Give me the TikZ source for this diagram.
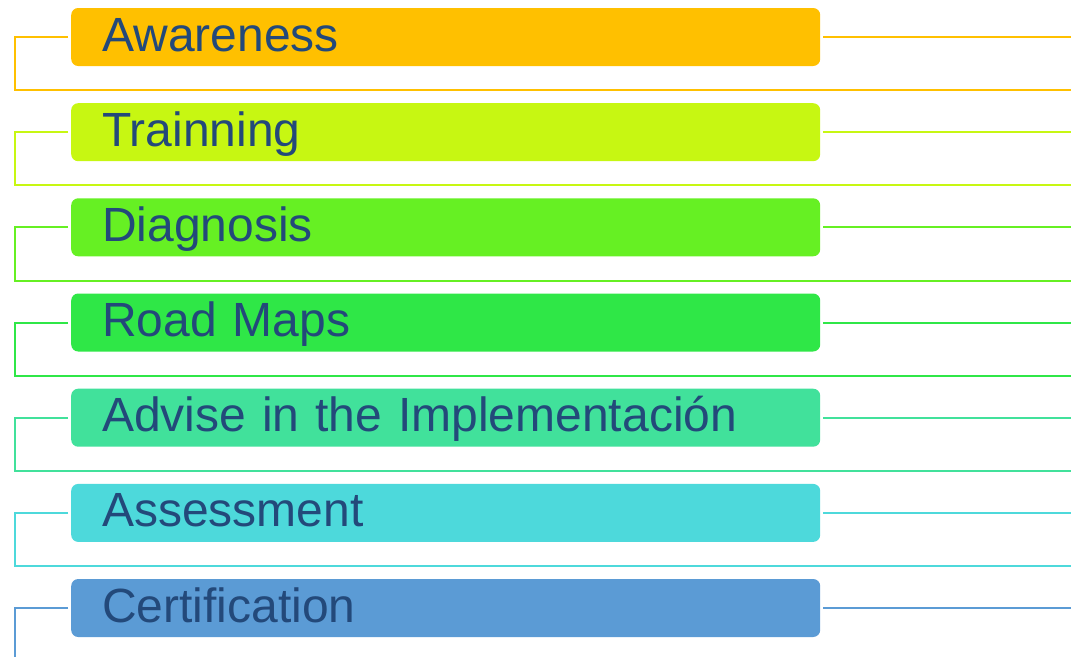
\documentclass[tikz,border=0pt]{standalone}
\usepackage{fontspec}
\setmainfont{Liberation Sans}
\usetikzlibrary{calc}
\definecolor{textblue}{HTML}{23497A}
\definecolor{cawareness}{HTML}{FFC000}
\definecolor{ctraining}{HTML}{C7F712}
\definecolor{cdiagnosis}{HTML}{66F023}
\definecolor{croadmaps}{HTML}{2FE747}
\definecolor{cadvise}{HTML}{41E19B}
\definecolor{cassessment}{HTML}{4DD9DB}
\definecolor{ccertification}{HTML}{5B9BD5}
\newcommand\stagefont{\fontsize{48}{50}\selectfont}
% connectors of one stage: #1 = node, #2 = colour
\newcommand\stageline[2]{%
  \draw[link, #2] ([xshift=-3pt]#1.west) -| ([yshift=-24pt]#1.south -| lft) -- ([yshift=-24pt]#1.south -| rgt);
  \draw[link, #2] ([xshift=3pt]#1.east) -- (#1.east -| rgt);}

\begin{document}
\begin{tikzpicture}[x=1pt, y=-1pt,
    stage/.style={anchor=west, rounded corners=7pt, text=textblue, font=\stagefont,
      text width=687pt, align=left, inner xsep=31pt, inner ysep=0pt,
      text height=43pt, text depth=15pt},
    link/.style={line width=2pt}]
  %%%%% START %%%%%
  \useasboundingbox (0,0) rectangle (1071,656);
  \coordinate (lft) at (15,0);
  \coordinate (rgt) at (1071,0);

  \node[stage, fill=cawareness] (awareness) at (71,37) {Awareness};
  \node[stage, fill=ctraining] (training) at (71,132.2) {Trainning};
  \node[stage, fill=cdiagnosis] (diagnosis) at (71,227.3) {Diagnosis};
  \node[stage, fill=croadmaps] (roadmaps) at (71,322.5) {Road Maps};
  \node[stage, fill=cadvise] (advise) at (71,417.7) {Advise in the Implementación};
  \node[stage, fill=cassessment] (assessment) at (71,512.9) {Assessment};
  \node[stage, fill=ccertification] (certification) at (71,608) {Certification};

  \stageline{awareness}{cawareness}
  \stageline{training}{ctraining}
  \stageline{diagnosis}{cdiagnosis}
  \stageline{roadmaps}{croadmaps}
  \stageline{advise}{cadvise}
  \stageline{assessment}{cassessment}
  \stageline{certification}{ccertification}
  %%%%% END %%%%%
\end{tikzpicture}
\end{document}
